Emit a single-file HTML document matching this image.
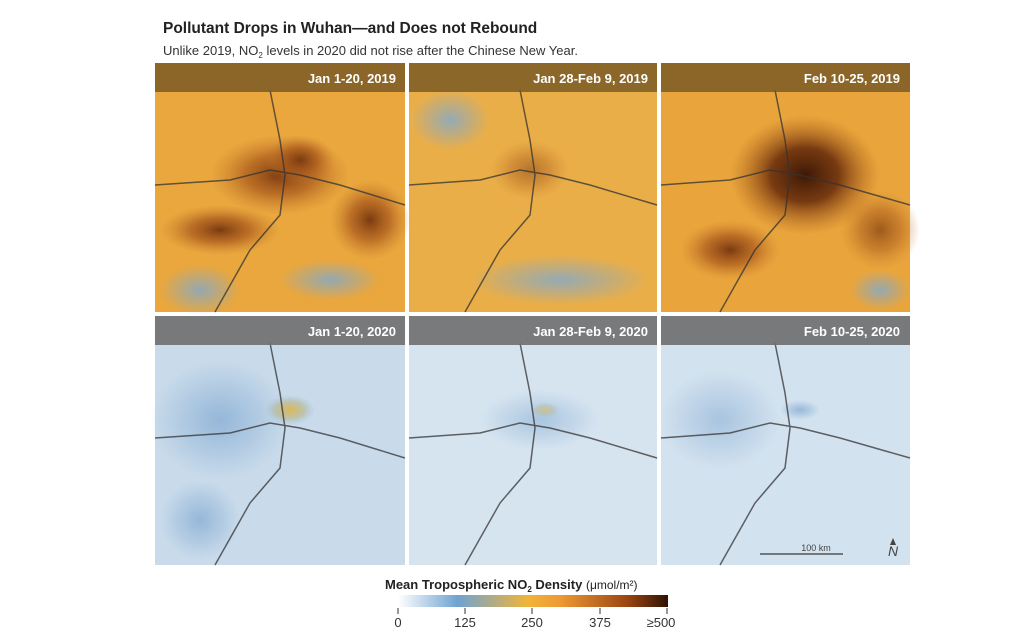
<!DOCTYPE html>
<html><head><meta charset="utf-8"><style>
body{margin:0;background:#fff;width:1024px;height:634px;overflow:hidden;font-family:"Liberation Sans",sans-serif}
</style></head><body>
<svg width="1024" height="634" xmlns="http://www.w3.org/2000/svg" style="position:absolute;left:0;top:0">
<defs>
<radialGradient id="hot1" cx="0.5" cy="0.5" r="0.5"><stop offset="0" stop-color="#7a3a10"/><stop offset="0.5" stop-color="#a8581c" stop-opacity="0.7"/><stop offset="1" stop-color="#c87a2a" stop-opacity="0"/></radialGradient>
<radialGradient id="hot3" cx="0.5" cy="0.5" r="0.5"><stop offset="0" stop-color="#3e1806"/><stop offset="0.45" stop-color="#6a2e0c" stop-opacity="0.9"/><stop offset="1" stop-color="#b0601e" stop-opacity="0"/></radialGradient>
<radialGradient id="blu" cx="0.5" cy="0.5" r="0.5"><stop offset="0" stop-color="#7fa9cf" stop-opacity="0.8"/><stop offset="1" stop-color="#7fa9cf" stop-opacity="0"/></radialGradient>
<radialGradient id="yel" cx="0.5" cy="0.5" r="0.5"><stop offset="0" stop-color="#e2b850"/><stop offset="0.6" stop-color="#b5b58a" stop-opacity="0.6"/><stop offset="1" stop-color="#9dbad4" stop-opacity="0"/></radialGradient>
<radialGradient id="mb" cx="0.5" cy="0.5" r="0.5"><stop offset="0" stop-color="#8fb3d6" stop-opacity="0.9"/><stop offset="1" stop-color="#8fb3d6" stop-opacity="0"/></radialGradient>
<linearGradient id="cb" x1="0" x2="1"><stop offset="0" stop-color="#fff"/><stop offset="0.22" stop-color="#6fa3d2"/><stop offset="0.48" stop-color="#f0b43a"/><stop offset="0.6" stop-color="#ee9a34"/><stop offset="0.85" stop-color="#9a4512"/><stop offset="1" stop-color="#2e1204"/></linearGradient>
</defs>
<text x="163" y="33" font-size="15.5" font-weight="bold" fill="#222">Pollutant Drops in Wuhan—and Does not Rebound</text>
<text x="163" y="55" font-size="13" fill="#333">Unlike 2019, NO<tspan font-size="8" dy="3">2</tspan><tspan dy="-3"> levels in 2020 did not rise after the Chinese New Year.</tspan></text>

<!-- top row -->
<g>
<rect x="155" y="63" width="250" height="249" fill="#e9a73e"/>
<ellipse cx="200" cy="290" rx="40" ry="25" fill="url(#blu)"/>
<ellipse cx="330" cy="280" rx="50" ry="20" fill="url(#blu)"/>
<ellipse cx="280" cy="175" rx="70" ry="40" fill="url(#hot1)"/>
<ellipse cx="300" cy="160" rx="35" ry="25" fill="url(#hot1)"/>
<ellipse cx="220" cy="230" rx="60" ry="25" fill="url(#hot1)"/>
<ellipse cx="370" cy="220" rx="40" ry="40" fill="url(#hot1)"/>
<rect x="409" y="63" width="248" height="249" fill="#eaae48"/>
<ellipse cx="450" cy="120" rx="40" ry="30" fill="url(#blu)"/>
<ellipse cx="560" cy="280" rx="90" ry="25" fill="url(#blu)"/>
<ellipse cx="530" cy="170" rx="40" ry="30" fill="url(#hot1)" opacity="0.5"/>
<rect x="661" y="63" width="249" height="249" fill="#e9a53c"/>
<ellipse cx="805" cy="175" rx="75" ry="60" fill="url(#hot3)"/>
<ellipse cx="730" cy="250" rx="50" ry="30" fill="url(#hot1)"/>
<ellipse cx="880" cy="230" rx="40" ry="40" fill="url(#hot1)" opacity="0.7"/>
<ellipse cx="880" cy="290" rx="30" ry="20" fill="url(#blu)"/>
</g>
<!-- bottom row -->
<g>
<rect x="155" y="316" width="250" height="249" fill="#c9dbeb"/>
<ellipse cx="220" cy="420" rx="70" ry="60" fill="url(#mb)"/>
<ellipse cx="200" cy="520" rx="40" ry="40" fill="url(#mb)"/>
<ellipse cx="290" cy="410" rx="25" ry="15" fill="url(#yel)"/>
<rect x="409" y="316" width="248" height="249" fill="#d6e4f0"/>
<ellipse cx="540" cy="420" rx="60" ry="30" fill="url(#mb)" opacity="0.7"/>
<ellipse cx="545" cy="410" rx="15" ry="8" fill="url(#yel)" opacity="0.6"/>
<rect x="661" y="316" width="249" height="249" fill="#d3e2ef"/>
<ellipse cx="720" cy="420" rx="60" ry="50" fill="url(#mb)" opacity="0.7"/>
<ellipse cx="800" cy="410" rx="20" ry="10" fill="url(#mb)"/>
</g>
<!-- roads -->
<g fill="none" stroke="#333" stroke-width="1.5" opacity="0.75">
<path d="M155 185 L230 180 L270 170 L300 175 L340 185 L405 205"/>
<path d="M270 90 L280 140 L285 175 L280 215 L250 250 L215 312"/>
<path d="M409 185 L480 180 L520 170 L550 175 L590 185 L657 205"/>
<path d="M520 90 L530 140 L535 175 L530 215 L500 250 L465 312"/>
<path d="M661 185 L730 180 L770 170 L800 175 L840 185 L910 205"/>
<path d="M775 90 L785 140 L790 175 L785 215 L755 250 L720 312"/>
<path d="M155 438 L230 433 L270 423 L300 428 L340 438 L405 458"/>
<path d="M270 343 L280 393 L285 428 L280 468 L250 503 L215 565"/>
<path d="M409 438 L480 433 L520 423 L550 428 L590 438 L657 458"/>
<path d="M520 343 L530 393 L535 428 L530 468 L500 503 L465 565"/>
<path d="M661 438 L730 433 L770 423 L800 428 L840 438 L910 458"/>
<path d="M775 343 L785 393 L790 428 L785 468 L755 503 L720 565"/>
</g>
<!-- headers -->
<rect x="155" y="63" width="250" height="29" fill="#7a5a24" opacity="0.85"/>
<rect x="409" y="63" width="248" height="29" fill="#7a5a24" opacity="0.85"/>
<rect x="661" y="63" width="249" height="29" fill="#7a5a24" opacity="0.85"/>
<rect x="155" y="316" width="250" height="29" fill="#6e6e6e" opacity="0.9"/>
<rect x="409" y="316" width="248" height="29" fill="#6e6e6e" opacity="0.9"/>
<rect x="661" y="316" width="249" height="29" fill="#6e6e6e" opacity="0.9"/>
<g font-size="13" font-weight="bold" fill="#fff" text-anchor="end">
<text x="396" y="83">Jan 1-20, 2019</text>
<text x="648" y="83">Jan 28-Feb 9, 2019</text>
<text x="900" y="83">Feb 10-25, 2019</text>
<text x="396" y="336">Jan 1-20, 2020</text>
<text x="648" y="336">Jan 28-Feb 9, 2020</text>
<text x="900" y="336">Feb 10-25, 2020</text>
</g>
<line x1="760" y1="554" x2="843" y2="554" stroke="#555" stroke-width="1.5"/>
<text x="816" y="551" font-size="9" fill="#444" text-anchor="middle">100 km</text>
<text x="893" y="556" font-size="14" fill="#444" font-style="italic" text-anchor="middle">N</text>
<path d="M893 538 l-3 7 h6z" fill="#444"/>
<!-- colorbar -->
<text x="385" y="589" font-size="13" font-weight="bold" fill="#222">Mean Tropospheric NO<tspan font-size="8" dy="3">2</tspan><tspan dy="-3"> Density </tspan><tspan font-weight="normal" font-size="12">(μmol/m²)</tspan></text>
<rect x="398" y="595" width="270" height="12" fill="url(#cb)"/>
<g stroke="#555" stroke-width="1.2"><line x1="398" y1="608" x2="398" y2="614"/><line x1="465" y1="608" x2="465" y2="614"/><line x1="532" y1="608" x2="532" y2="614"/><line x1="600" y1="608" x2="600" y2="614"/><line x1="667" y1="608" x2="667" y2="614"/></g>
<g font-size="13" fill="#333" text-anchor="middle"><text x="398" y="627">0</text><text x="465" y="627">125</text><text x="532" y="627">250</text><text x="600" y="627">375</text><text x="661" y="627">≥500</text></g>
</svg>
</body></html>
